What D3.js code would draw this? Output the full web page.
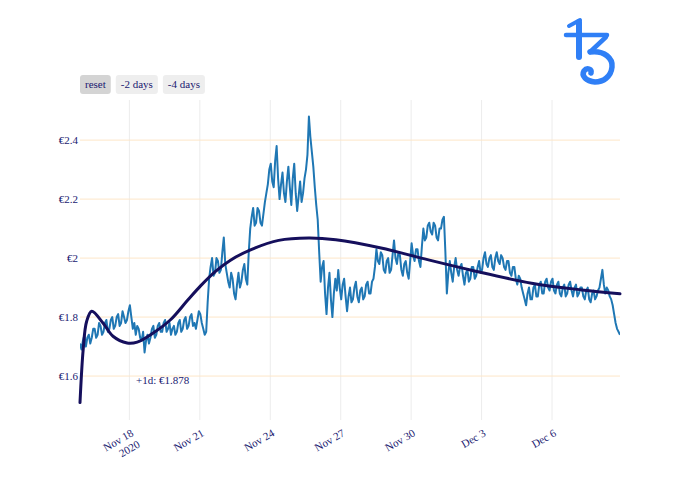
<!DOCTYPE html>
<html><head><meta charset="utf-8">
<script src="https://cdn.jsdelivr.net/npm/d3@7"></script>
<style>body{margin:0;background:#fff}svg{display:block}</style>
</head><body><svg id="c" width="700" height="500"></svg>
<script>
// ---------- data ----------
const startDate = "2020-11-15T21:30:00";
const stepHours = 1.5;
const priceValues = [
  1.71,1.69,1.72,1.74,1.70,1.73,1.74,1.71,1.73,1.76,1.76,1.73,1.74,1.78,1.77,1.74,
  1.75,1.78,1.79,1.75,1.76,1.79,1.80,1.76,1.77,1.80,1.81,1.77,1.78,1.82,1.80,1.78,
  1.79,1.82,1.84,1.80,1.76,1.78,1.74,1.77,1.76,1.73,1.72,1.75,1.68,1.72,1.74,1.71,
  1.73,1.76,1.77,1.73,1.74,1.77,1.78,1.75,1.75,1.78,1.79,1.75,1.76,1.78,1.74,1.76,
  1.77,1.74,1.75,1.78,1.79,1.75,1.76,1.79,1.80,1.76,1.77,1.80,1.81,1.77,1.78,1.76,
  1.79,1.82,1.81,1.78,1.76,1.74,1.75,1.85,1.93,1.97,2.00,1.94,1.95,2.00,1.99,1.95,
  1.96,2.02,2.07,1.98,1.95,1.92,1.90,1.95,1.93,1.88,1.86,1.91,1.95,1.90,1.92,1.96,
  1.98,1.93,1.91,2.02,2.10,2.14,2.17,2.11,2.12,2.17,2.16,2.12,2.11,2.15,2.19,2.22,
  2.25,2.30,2.32,2.26,2.24,2.33,2.38,2.27,2.20,2.25,2.29,2.22,2.19,2.26,2.31,2.24,
  2.18,2.27,2.32,2.22,2.16,2.21,2.26,2.19,2.22,2.27,2.30,2.35,2.48,2.41,2.36,2.31,
  2.24,2.18,2.13,2.02,1.92,1.97,1.99,1.88,1.81,1.90,1.95,1.86,1.80,1.88,1.93,1.89,
  1.96,1.90,1.86,1.91,1.93,1.87,1.82,1.87,1.90,1.85,1.86,1.90,1.92,1.87,1.85,1.89,
  1.90,1.86,1.87,1.91,1.92,1.88,1.88,1.92,1.93,1.97,2.03,1.99,1.98,2.02,2.01,1.96,
  1.95,1.99,2.00,1.95,1.96,2.01,2.06,2.00,1.98,2.02,2.01,1.96,1.94,1.98,1.99,1.95,
  1.93,1.99,2.05,2.01,1.99,2.03,2.03,1.99,1.97,2.04,2.10,2.06,2.07,2.11,2.12,2.09,
  2.08,2.12,2.11,2.07,2.06,2.10,2.10,2.13,2.14,2.02,1.88,1.95,1.99,1.95,1.92,1.97,
  2.00,1.96,1.94,1.97,1.98,1.94,1.91,1.95,1.96,1.92,1.93,1.97,1.97,1.93,1.94,1.97,
  1.99,1.95,1.96,2.00,2.02,1.98,1.97,2.00,2.01,1.97,1.96,2.00,2.02,1.99,1.98,2.01,
  2.00,1.97,1.96,1.99,1.99,1.95,1.94,1.97,1.97,1.93,1.91,1.94,1.93,1.90,1.88,1.86,
  1.84,1.88,1.90,1.86,1.86,1.90,1.91,1.87,1.87,1.91,1.92,1.88,1.88,1.92,1.93,1.90,
  1.89,1.92,1.93,1.89,1.88,1.91,1.92,1.88,1.87,1.90,1.91,1.87,1.88,1.91,1.92,1.89,
  1.87,1.90,1.91,1.87,1.88,1.90,1.90,1.87,1.86,1.89,1.90,1.86,1.85,1.88,1.89,1.86,
  1.87,1.89,1.90,1.93,1.96,1.91,1.88,1.90,1.89,1.87,1.86,1.84,1.81,1.78,1.76,1.75,
  1.74
];
const trendDates = [
  "2020-11-15T21:30","2020-11-16T00:45","2020-11-16T04:15","2020-11-16T09:30",
  "2020-11-16T21:00","2020-11-17T07:15","2020-11-17T21:40","2020-11-18T08:00",
  "2020-11-19T00:20","2020-11-19T17:45","2020-11-20T11:15","2020-11-21T00:30",
  "2020-11-21T16:00","2020-11-22T07:20","2020-11-23T03:50","2020-11-24T08:35",
  "2020-11-25T15:20","2020-11-26T19:00","2020-11-28T17:15","2020-11-30T10:20",
  "2020-12-02T13:40","2020-12-05T03:10","2020-12-07T06:30","2020-12-08T21:30"
];
const trendValues = [
  1.51,1.69,1.785,1.82,
  1.78,1.735,1.712,1.715,
  1.746,1.79,1.856,1.905,
  1.955,1.993,2.028,2.060,
  2.068,2.062,2.034,2.000,
  1.959,1.915,1.892,1.879
];
const yRange = [1.451, 2.536];
const yTickValues = [1.6, 1.8, 2.0, 2.2, 2.4];
const yTickLabels = ["€1.6", "€1.8", "€2", "€2.2", "€2.4"];
const xTickDates = ["2020-11-18T00:00","2020-11-21T00:00","2020-11-24T00:00","2020-11-27T00:00","2020-11-30T00:00","2020-12-03T00:00","2020-12-06T00:00"];
const xTickLabels = [["Nov 18","2020"],["Nov 21"],["Nov 24"],["Nov 27"],["Nov 30"],["Dec 3"],["Dec 6"]];
const buttonLabels = ["reset", "-2 days", "-4 days"];
const annotationDate = "2020-11-18T06:50";
const annotationValue = 1.573;
const annotationText = "+1d: €1.878";

// ---------- layout ----------
const W = 700, H = 500;
const m = {left: 80, right: 80, top: 100, bottom: 80};
const FONT = "'Liberation Serif', 'Times New Roman', serif";
const TXT = "#191970";
const svg = d3.select("#c");

const t0 = new Date(startDate);
const series = priceValues.map((v, i) => ({date: new Date(t0.getTime() + i * stepHours * 3600e3), value: v}));
const trend = trendDates.map((d, i) => ({date: new Date(d), value: trendValues[i]}));

const x = d3.scaleTime().domain(d3.extent(series, d => d.date)).range([m.left, W - m.right]);
const y = d3.scaleLinear().domain(yRange).range([H - m.bottom, m.top]);

// gridlines
const grid = svg.append("g");
grid.selectAll(".vg").data(xTickDates).join("line")
  .attr("x1", d => x(new Date(d))).attr("x2", d => x(new Date(d)))
  .attr("y1", m.top).attr("y2", H - m.bottom)
  .attr("stroke", "#ececec").attr("stroke-width", 1);
grid.selectAll(".hg").data(yTickValues).join("line")
  .attr("x1", m.left).attr("x2", W - m.right)
  .attr("y1", d => y(d)).attr("y2", d => y(d))
  .attr("stroke", "#fde6c8").attr("stroke-width", 1);

// y tick labels
svg.append("g").selectAll("text").data(yTickValues).join("text")
  .attr("x", m.left - 2).attr("y", d => y(d)).attr("dy", "0.35em")
  .attr("text-anchor", "end").attr("font-family", FONT).attr("font-size", 11)
  .attr("fill", TXT).text((d, i) => yTickLabels[i]);

// x tick labels (rotated)
const xl = svg.append("g").selectAll("g").data(xTickDates).join("g")
  .attr("transform", d => `translate(${x(new Date(d)) + 3},${H - m.bottom + 12}) rotate(-30)`);
xl.each(function(d, i) {
  const g = d3.select(this);
  xTickLabels[i].forEach((s, k) => {
    g.append("text").attr("x", 0).attr("y", k * 13).attr("dy", "0.35em")
      .attr("text-anchor", "end").attr("font-family", FONT).attr("font-size", 11)
      .attr("fill", TXT).text(s);
  });
});

// lines
svg.append("clipPath").attr("id", "pc").append("rect")
  .attr("x", m.left).attr("y", m.top).attr("width", W - m.left - m.right).attr("height", H - m.top - m.bottom);

svg.append("path").datum(series)
  .attr("clip-path", "url(#pc)")
  .attr("fill", "none").attr("stroke", "#1f77b4").attr("stroke-width", 2)
  .attr("stroke-linejoin", "round")
  .attr("d", d3.line().x(d => x(d.date)).y(d => y(d.value)));

svg.append("path").datum(trend)
  .attr("fill", "none").attr("stroke", "#150f5c").attr("stroke-width", 3)
  .attr("stroke-linecap", "round")
  .attr("d", d3.line().curve(d3.curveCatmullRom.alpha(0.5)).x(d => x(d.date)).y(d => y(d.value)));

// annotation
svg.append("text").attr("x", x(new Date(annotationDate))).attr("y", y(annotationValue))
  .attr("font-family", FONT).attr("font-size", 11).attr("fill", TXT).text(annotationText);

// range selector buttons
const bg = svg.append("g").attr("transform", `translate(${m.left},75)`);
let bx = 0;
buttonLabels.forEach((lab, i) => {
  const g = bg.append("g").attr("transform", `translate(${bx},0)`);
  const r = g.append("rect").attr("height", 19).attr("rx", 3).attr("fill", i === 0 ? "#d4d4d4" : "#eeeeee");
  const t = g.append("text").attr("x", 5).attr("y", 13).attr("font-family", FONT).attr("font-size", 11)
    .attr("fill", TXT).text(lab);
  const w = t.node().getComputedTextLength() + 10;
  r.attr("width", w);
  bx += w + 5;
});

// Tezos logo
const logo = svg.append("g").attr("fill", "none").attr("stroke", "#2f7ff6")
  .attr("stroke-linecap", "round").attr("stroke-linejoin", "round");
logo.append("path").attr("stroke-width", 4).attr("d", "M569 26 L580 20");
logo.append("path").attr("stroke-width", 6).attr("d", "M579 22 L579 57");
logo.append("path").attr("stroke-width", 4.5).attr("d", "M566 35 L607 35");
logo.append("path").attr("stroke-width", 4.5).attr("d", "M606 37 L590 52");
logo.append("path").attr("stroke-width", 5.5)
  .attr("d", "M590 52 C605 50 613 59 612 67 C611 77 603 82 595 82 C586 81 581 76 584 71 C587 67 592 69 591 73");
</script>
</body></html>
